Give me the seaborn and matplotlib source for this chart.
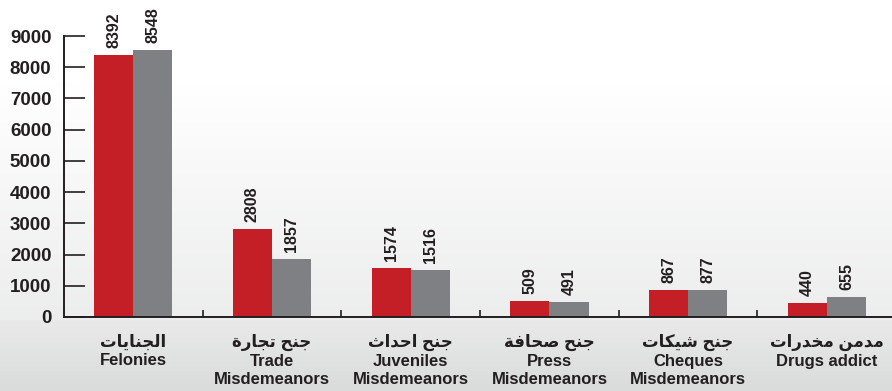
import numpy as np
import pandas as pd
import seaborn as sns
import matplotlib
matplotlib.use("Agg")
from matplotlib import pyplot as plt
from matplotlib.colors import LinearSegmentedColormap

# data
categories_ar = ["الجنايات", "جنح تجارة", "جنح احداث", "جنح صحافة", "جنح شيكات", "مدمن مخدرات"]
categories_en = ["Felonies", "Trade\nMisdemeanors", "Juveniles\nMisdemeanors", "Press\nMisdemeanors",
                 "Cheques\nMisdemeanors", "Drugs addict"]
values_red = [8392, 2808, 1574, 509, 867, 440]
values_gray = [8548, 1857, 1516, 491, 877, 655]
series_names = ["Series 1", "Series 2"]
y_ticks = [0, 1000, 2000, 3000, 4000, 5000, 6000, 7000, 8000, 9000]

# matplotlib does no arabic shaping, so pick the presentation forms by hand
# (isolated, final, initial, medial)
forms = {
    "ا": ("\uFE8D", "\uFE8E", None, None),
    "ت": ("\uFE95", "\uFE96", "\uFE97", "\uFE98"),
    "ث": ("\uFE99", "\uFE9A", "\uFE9B", "\uFE9C"),
    "ج": ("\uFE9D", "\uFE9E", "\uFE9F", "\uFEA0"),
    "ح": ("\uFEA1", "\uFEA2", "\uFEA3", "\uFEA4"),
    "خ": ("\uFEA5", "\uFEA6", "\uFEA7", "\uFEA8"),
    "د": ("\uFEA9", "\uFEAA", None, None),
    "ر": ("\uFEAD", "\uFEAE", None, None),
    "ش": ("\uFEB5", "\uFEB6", "\uFEB7", "\uFEB8"),
    "ص": ("\uFEB9", "\uFEBA", "\uFEBB", "\uFEBC"),
    "ف": ("\uFED1", "\uFED2", "\uFED3", "\uFED4"),
    "ك": ("\uFED9", "\uFEDA", "\uFEDB", "\uFEDC"),
    "ل": ("\uFEDD", "\uFEDE", "\uFEDF", "\uFEE0"),
    "م": ("\uFEE1", "\uFEE2", "\uFEE3", "\uFEE4"),
    "ن": ("\uFEE5", "\uFEE6", "\uFEE7", "\uFEE8"),
    "ة": ("\uFE93", "\uFE94", None, None),
    "ي": ("\uFEF1", "\uFEF2", "\uFEF3", "\uFEF4"),
}

def joins_next(c):
    return c in forms and forms[c][2] is not None

def shape_arabic(text):
    out = []
    for i, c in enumerate(text):
        if c not in forms:
            out.append(c)
            continue
        prev = text[i - 1] if i > 0 else " "
        nxt = text[i + 1] if i < len(text) - 1 else " "
        p = joins_next(prev)
        n = joins_next(c) and nxt in forms
        if p and n:
            out.append(forms[c][3])
        elif p:
            out.append(forms[c][1])
        elif n:
            out.append(forms[c][2])
        else:
            out.append(forms[c][0])
    return "".join(reversed(out))

sns.set_style("white")
plt.rcParams["font.family"] = ["Liberation Sans", "DejaVu Sans"]

df = pd.DataFrame({
    "category": categories_en * 2,
    "value": values_red + values_gray,
    "series": [series_names[0]] * 6 + [series_names[1]] * 6,
})

fig = plt.figure(figsize=(8.92, 3.91), dpi=100)

# background gradient: white at top, light grey at bottom
bg = fig.add_axes([0, 0, 1, 1], zorder=0)
grad = np.concatenate([np.zeros(80), np.linspace(0, 0.5, 240), np.linspace(0.6, 1, 71)])
cmap_bg = LinearSegmentedColormap.from_list("bg", ["#ffffff", "#dadbdb"])
bg.imshow(grad[:, None], aspect="auto", cmap=cmap_bg, extent=[0, 1, 0, 1], origin="upper")
bg.set_axis_off()

ax = fig.add_axes([0.0717, 0.1893, 0.9283, 0.7186], zorder=1)
ax.patch.set_alpha(0)

sns.barplot(data=df, x="category", y="value", hue="series", order=categories_en,
            palette={series_names[0]: "#c41e26", series_names[1]: "#7f8084"},
            width=0.565, saturation=1, linewidth=0, legend=False, ax=ax)

for cont in ax.containers:
    ax.bar_label(cont, padding=5, rotation=90, fontsize=11.5, fontweight="bold",
                 color="#231f20", clip_on=False)

ax.set_xlim(-0.5, 5.47)
ax.set_ylim(0, 9000)
ax.set_yticks(y_ticks)
ax.set_yticklabels([str(t) for t in y_ticks], fontsize=13.5, fontweight="bold", color="#231f20")
ax.tick_params(axis="y", direction="in", length=15, width=1.2, color="#231f20", pad=9, left=True)

ax.set_xticks(range(len(categories_en)))
ax.set_xticklabels([shape_arabic(a) + "\n" + e for a, e in zip(categories_ar, categories_en)],
                   fontsize=12, fontweight="bold", color="#231f20", linespacing=1.27)
ax.tick_params(axis="x", length=0, pad=12)
ax.set_xticks([i + 0.5 for i in range(len(categories_en) - 1)], minor=True)
ax.tick_params(axis="x", which="minor", direction="in", length=5, width=1.2,
               color="#231f20", bottom=True)

ax.set_xlabel("")
ax.set_ylabel("")
for side in ["top", "right"]:
    ax.spines[side].set_visible(False)
for side in ["left", "bottom"]:
    ax.spines[side].set_color("#231f20")
    ax.spines[side].set_linewidth(1.4)

plt.savefig("out.png", dpi=100)
